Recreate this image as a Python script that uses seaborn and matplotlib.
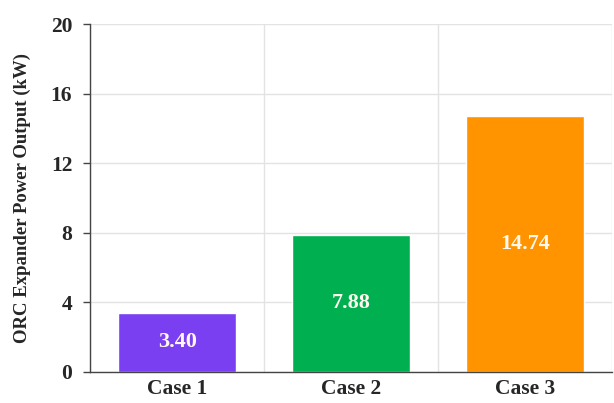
import matplotlib
matplotlib.use("Agg")
import matplotlib.pyplot as plt
import seaborn as sns
import pandas as pd

# Data
cases = ['Case 1', 'Case 2', 'Case 3']
power_kw = [3.40, 7.88, 14.74]
bar_colors = ['#7B3FF2', '#00B050', '#FF9400']
y_ticks = [0, 4, 8, 12, 16, 20]

df = pd.DataFrame({'case': cases, 'power': power_kw})

sns.set_theme(style='white')
plt.rcParams['font.family'] = ['Liberation Serif', 'DejaVu Serif']
plt.rcParams['font.weight'] = 'bold'

fig = plt.figure(figsize=(6.14, 4.03), dpi=100)
ax = fig.add_axes([0.147, 0.077, 0.850, 0.863])

sns.barplot(data=df, x='case', y='power', hue='case', palette=bar_colors,
            width=0.68, legend=False, ax=ax, saturation=1)

# value labels centred in bars
for i, v in enumerate(power_kw):
    ax.text(i, v / 2, f'{v:.2f}', ha='center', va='center', color='#FFF8EE',
            fontsize=16, fontweight='bold')

ax.set_ylim(0, 20)
ax.set_xlim(-0.5, 2.5)
ax.set_yticks(y_ticks)
ax.set_yticklabels([str(t) for t in y_ticks], fontsize=15.5, fontweight='bold')
ax.set_xticklabels(cases, fontsize=15.5, fontweight='bold')
ax.set_xlabel('')
ax.set_ylabel('ORC Expander Power Output (kW)', fontsize=13.5, fontweight='bold', labelpad=14)

# grid: horizontal at ticks, vertical at category boundaries
ax.set_xticks([-0.5, 0.5, 1.5, 2.5], minor=True)
ax.grid(True, axis='y', color='#E3E3E3', linewidth=1)
ax.grid(True, axis='x', which='minor', color='#E3E3E3', linewidth=1)
ax.set_axisbelow(True)

ax.tick_params(axis='x', which='major', length=0, pad=5)
ax.tick_params(axis='x', which='minor', length=5, width=1, color='#444444', direction='out')
ax.tick_params(axis='y', length=5, width=1, color='#444444', direction='out', left=True, pad=8)

for s in ['top', 'right']:
    ax.spines[s].set_visible(False)
for s in ['left', 'bottom']:
    ax.spines[s].set_color('#444444')
    ax.spines[s].set_linewidth(1)

fig.savefig('out.png', dpi=100)
